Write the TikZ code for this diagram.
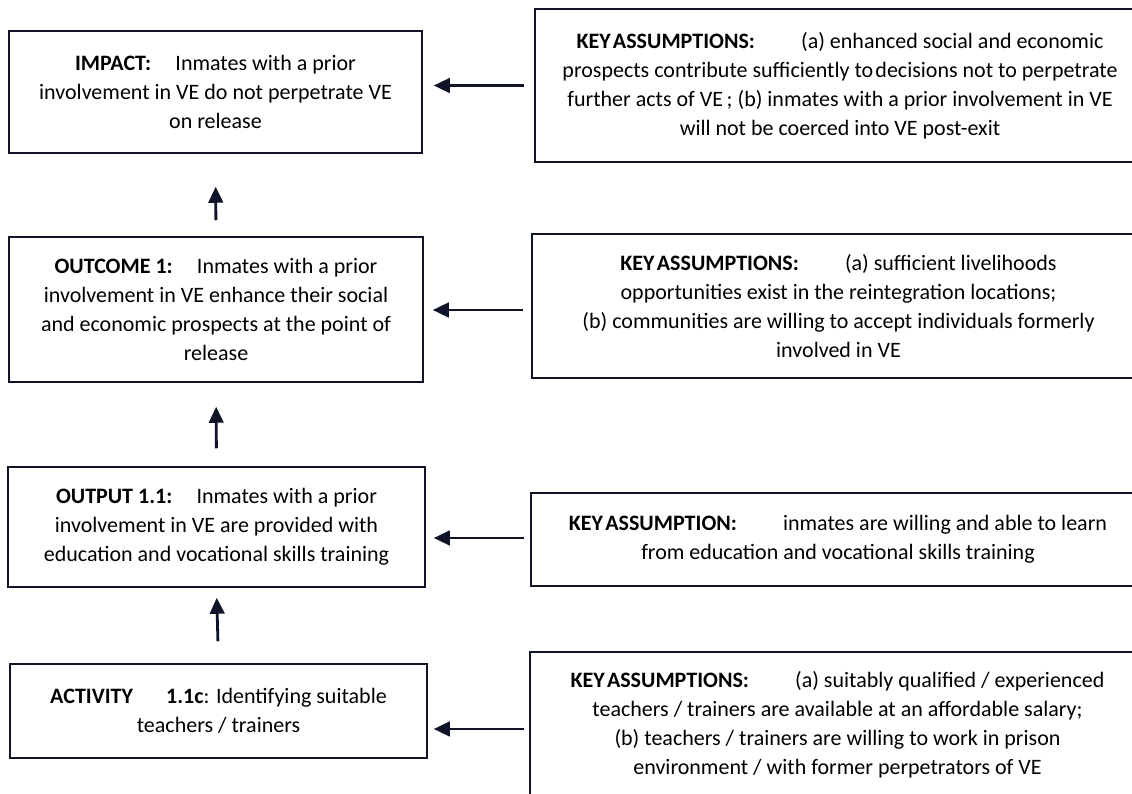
\documentclass[tikz,border=0pt]{standalone}
\usepackage{fontspec}
\setmainfont{Carlito}
\usetikzlibrary{arrows.meta}
\definecolor{navy}{RGB}{16,20,40}
\tikzset{
  box/.style={draw=navy, line width=1.5pt, align=center, inner sep=0pt,
    font=\fontsize{22}{29}\selectfont, text=black},
  arr/.style={draw=navy, line width=2.8pt, -{Triangle[length=16pt,width=14.5pt]}}
}
\newcommand{\gapL}{\hspace{1.1em}}
\newcommand{\gapK}{\hspace{2.1em}}
\begin{document}
\begin{tikzpicture}[x=1pt,y=-1pt]
\useasboundingbox (0,0) rectangle (1132,794);
\fill[white] (0,0) rectangle (1132,794);

\node[box, minimum width=413pt, minimum height=122pt] (impact) at (215.5,92)
 {\textbf{IMPACT:}\gapL Inmates with a prior\\
  involvement in VE do not perpetrate VE\\
  on release};
\node[box, minimum width=610pt, minimum height=153pt] (ka1) at (840,85.5)
 {\textbf{KEY\hspace{0.1em}ASSUMPTIONS:}\gapK(a) enhanced social and economic\\
  prospects contribute sufficiently to\hspace{0.1em}decisions not to perpetrate\\
  further acts of VE\,; (b) inmates with a prior involvement in VE\\
  will not be coerced into VE post-exit};

\node[box, minimum width=414pt, minimum height=145pt] (outcome) at (216,309.5)
 {\textbf{OUTCOME 1:}\gapL Inmates with a prior\\
  involvement in VE enhance their social\\
  and economic prospects at the point of\\
  release};
\node[box, minimum width=613pt, minimum height=144pt] (ka2) at (838.5,306)
 {\textbf{KEY\hspace{0.1em}ASSUMPTIONS:}\gapK(a) sufficient livelihoods\\
  opportunities exist in the reintegration locations;\\
  (b) communities are willing to accept individuals formerly\\
  involved in VE};

\node[box, minimum width=417pt, minimum height=120pt] (output) at (216.5,527)
 {\textbf{OUTPUT 1.1:}\gapL Inmates with a prior\\
  involvement in VE are provided with\\
  education and vocational skills training};
\node[box, minimum width=614pt, minimum height=93pt] (ka3) at (838,539.5)
 {\textbf{KEY\hspace{0.1em}ASSUMPTION:}\gapK inmates are willing and able to learn\\
  from education and vocational skills training};

\node[box, minimum width=417pt, minimum height=94pt] (activity) at (218.5,711)
 {\textbf{ACTIVITY}\hspace{1.5em}\textbf{1.1c}: Identifying suitable\\
  teachers / trainers};
\node[box, minimum width=615pt, minimum height=146pt] (ka4) at (837.5,725)
 {\textbf{KEY\hspace{0.1em}ASSUMPTIONS:}\gapK(a) suitably qualified / experienced\\
  teachers / trainers are available at an affordable salary;\\
  (b) teachers / trainers are willing to work in prison\\
  environment / with former perpetrators of VE};

% arrow start points on the assumption boxes
\coordinate (s1) at (ka1.west);
\coordinate (s2) at ([yshift=-4pt]ka2.west);
\coordinate (s3) at ([yshift=1.5pt]ka3.west);
\coordinate (s4) at ([yshift=-4pt]ka4.west);

% horizontal arrows
\draw[arr, shorten <=10pt, shorten >=11pt] (s1) -- (impact.east |- s1);
\draw[arr, shorten <=8pt, shorten >=9pt] (s2) -- (outcome.east |- s2);
\draw[arr, shorten <=6pt, shorten >=8pt] (s3) -- (output.east |- s3);
\draw[arr, shorten <=5pt, shorten >=6pt] (s4) -- (activity.east |- s4);

% vertical arrows
\draw[arr, shorten <=16pt, shorten >=33pt] (outcome.north) -- (impact.south);
\draw[arr, shorten <=18pt, shorten >=24pt] (output.north) -- (outcome.south);
\draw[arr, shorten <=22pt, shorten >=10pt] (activity.north) -- (output.south);
\end{tikzpicture}
\end{document}
